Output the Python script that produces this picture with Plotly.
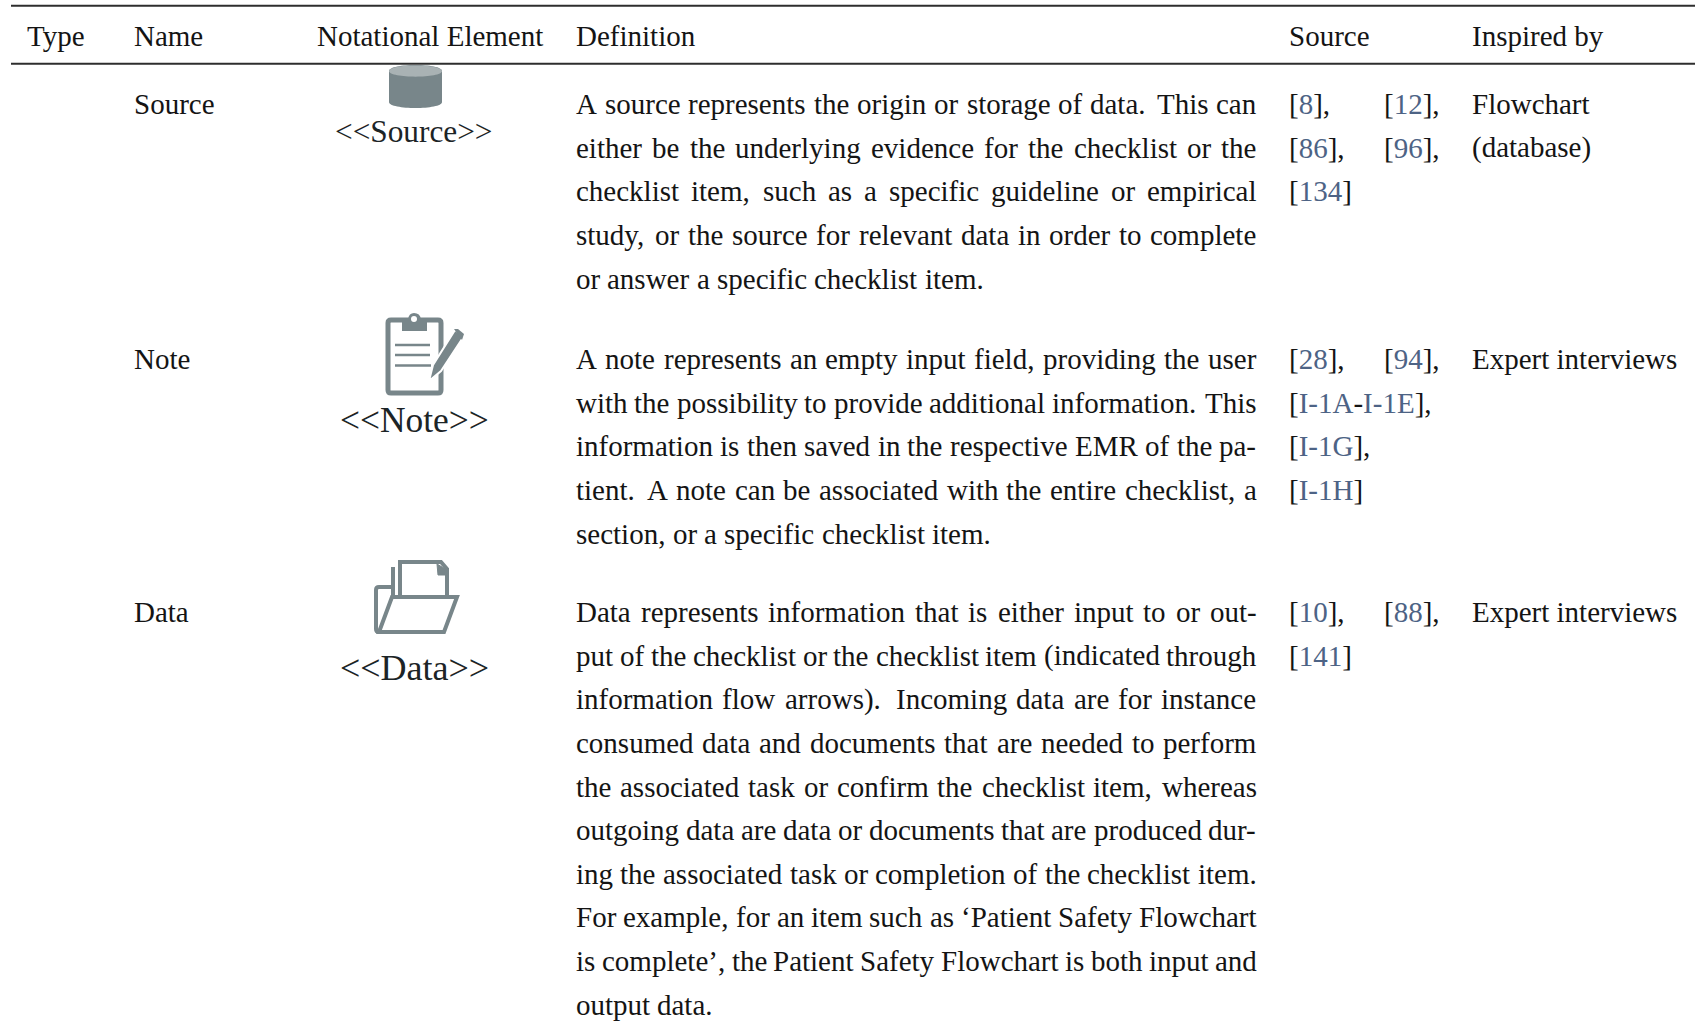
import re
import plotly.graph_objects as go

# ---------- table content ----------
headers = ["Type", "Name", "Notational Element", "Definition", "Source", "Inspired by"]
names = ["Source", "Note", "Data"]
elements = ["<<Source>>", "<<Note>>", "<<Data>>"]
definitions = [
    ["A source represents the origin or storage of data. This can",
     "either be the underlying evidence for the checklist or the",
     "checklist item, such as a specific guideline or empirical",
     "study, or the source for relevant data in order to complete",
     "or answer a specific checklist item."],
    ["A note represents an empty input field, providing the user",
     "with the possibility to provide additional information. This",
     "information is then saved in the respective EMR of the pa-",
     "tient. A note can be associated with the entire checklist, a",
     "section, or a specific checklist item."],
    ["Data represents information that is either input to or out-",
     "put of the checklist or the checklist item (indicated through",
     "information flow arrows). Incoming data are for instance",
     "consumed data and documents that are needed to perform",
     "the associated task or confirm the checklist item, whereas",
     "outgoing data are data or documents that are produced dur-",
     "ing the associated task or completion of the checklist item.",
     "For example, for an item such as ‘Patient Safety Flowchart",
     "is complete’, the Patient Safety Flowchart is both input and",
     "output data."],
]
sources = [
    ["[8], [12],", "[86], [96],", "[134]"],
    ["[28], [94],", "[I-1A-I-1E],", "[I-1G],", "[I-1H]"],
    ["[10], [88],", "[141]"],
]
inspired = [["Flowchart", "(database)"], ["Expert interviews"], ["Expert interviews"]]

# ---------- layout constants ----------
FS = 29
PITCH = 43.6
INK = "#141414"
LINK = "#4d6385"
ICON = "#78868a"
COLX = [27, 134, 317, 576, 1289, 1471.5]
DEF_RIGHT = 1256.5
SRC_RIGHT = 1440
HEAD_BASE = 46
ROW_BASE = [114, 369, 622]
ELEM_POS = [(414, 142, 31.3), (414, 432, 35.4), (414.5, 680, 36)]
BASE_OFFSET = 0.3375  # em from baseline up to text-box centre

W = {" ": 250, "(": 333, ")": 333, ",": 250, "-": 333, ".": 250, "<": 564, ">": 564, "[": 333, "]": 333,
     "A": 722, "B": 667, "C": 667, "D": 722, "E": 611, "F": 556, "G": 722, "H": 722, "I": 333, "J": 389,
     "K": 722, "L": 611, "M": 889, "N": 722, "O": 722, "P": 556, "Q": 722, "R": 667, "S": 556, "T": 611,
     "U": 722, "V": 722, "W": 944, "X": 722, "Y": 722, "Z": 611,
     "a": 444, "b": 500, "c": 444, "d": 500, "e": 444, "f": 333, "g": 500, "h": 500, "i": 278, "j": 278,
     "k": 500, "l": 278, "m": 778, "n": 500, "o": 500, "p": 500, "q": 500, "r": 333, "s": 389, "t": 278,
     "u": 500, "v": 500, "w": 722, "x": 500, "y": 500, "z": 444, "‘": 333, "’": 333}


def width(s, fs=FS):
    return sum(W.get(c, 500) for c in s) * fs / 1000


annotations = []


def put(text, x, base, fs=FS, color=INK, anchor="left"):
    annotations.append(dict(
        text=text, x=x, y=base - BASE_OFFSET * fs, xref="x", yref="y", xanchor=anchor, yanchor="middle",
        showarrow=False, borderpad=0, borderwidth=0, align="left",
        font=dict(family="Liberation Serif", size=fs, color=color)))


def tint(word):
    """Colour the citation keys inside brackets, leaving punctuation dark."""
    def rep(m):
        return "<span style='color:%s'>%s</span>" % (LINK, m.group(0))
    return re.sub(r"I-1[A-Z]|\d+", rep, word)


def glue(word):
    """Natural width, stretch and shrink of the space after a word (TeX model, in em)."""
    end = word[-1]
    if end in ".":
        return 0.31, 0.45, 0.02
    if end == ")":
        return 0.25, 0.15, 0.06
    if end == ",":
        return 0.25, 0.1875, 0.048
    return 0.25, 0.15, 0.06


def line(text, x0, base, right=None, link=False):
    words = text.split(" ")
    nat = sum(width(w) for w in words)
    gaps = len(words) - 1
    g = [glue(w) for w in words[:-1]]
    if words[:-1] and "arrows)." in words:
        pass
    if right is None or gaps == 0:
        gap = [width(" ")] * gaps
    else:
        base_gap = sum(v[0] for v in g) * FS
        excess = right - x0 - nat - base_gap
        k = 1 if excess >= 0 else 2
        ratio = excess / (sum(v[k] for v in g) * FS)
        gap = [(v[0] + ratio * v[k]) * FS for v in g]
    x = x0
    for i, w in enumerate(words):
        put(tint(w) if link else w, x, base)
        if i < gaps:
            x += width(w) + gap[i]


for h, x in zip(headers, COLX):
    put(h, x, HEAD_BASE)

for r in range(3):
    base = ROW_BASE[r]
    put(names[r], COLX[1], base)
    ex, eb, efs = ELEM_POS[r]
    put(elements[r].replace("<", "&lt;").replace(">", "&gt;"), ex, eb, fs=efs, color="#1c2426", anchor="center")
    for i, t in enumerate(definitions[r]):
        last = i == len(definitions[r]) - 1
        line(t, COLX[3], base + i * PITCH, None if last else DEF_RIGHT)
    for i, t in enumerate(sources[r]):
        line(t, COLX[4], base + i * PITCH, SRC_RIGHT, link=True)
    for i, t in enumerate(inspired[r]):
        put(t, COLX[5], base + i * PITCH)

# ---------- rules and icons ----------
shapes = []


def rule(y):
    shapes.append(dict(type="line", x0=11, x1=1695, y0=y, y1=y, xref="x", yref="y",
                       line=dict(color="#2e2e2e", width=2), layer="above"))


def path(d, fill="rgba(0,0,0,0)", color=ICON, w=0):
    shapes.append(dict(type="path", path=d, xref="x", yref="y", fillcolor=fill,
                       line=dict(color=color, width=w)))


rule(5.7)
rule(63.7)

# Source: database cylinder
path("M389,71 C389,63 442,63 442,71 L442,102 C442,110 389,110 389,102 Z", fill=ICON)
path("M389,71 C389,63.5 442,63.5 442,71 C442,78.5 389,78.5 389,71 Z", fill="#a9b2b4")

# Note: clipboard and pencil
path("M391,320 L438,320 Q441,320 441,323 L441,390 Q441,393 438,393 L391,393 Q388,393 388,390 "
     "L388,323 Q388,320 391,320 Z", fill="white", w=5)
path("M402,319 L408,319 Q409,313 414,313 Q420,313 421,319 L427,319 L427,331 L402,331 Z", fill=ICON)
shapes.append(dict(type="circle", x0=411, x1=417, y0=316, y1=322, fillcolor="white", line=dict(width=0)))
for y, x1 in ((345, 430), (355, 430), (365.5, 431)):
    shapes.append(dict(type="line", x0=395, x1=x1, y0=y, y1=y, line=dict(color=ICON, width=2.6)))
path("M429,381 L433,365 L455,330 L464,336 L441,371 Z", fill=ICON, color="white", w=2)
path("M454,329 L458,329 L464,334 L462,340 Z", fill=ICON)

# Data: folder with papers
path("M400,597 L400,562 L441,562 L447,569 L447,597", fill="white", w=4)
path("M393,597 L393,567", w=4)
path("M437,564 L447,570 L447,575 L438,575 Z", fill=ICON, w=1)
path("M393,587 L379,587 Q376,587 376,590 L376,629 Q376,632 379,632", w=4)
path("M392,597 L457,597 L444,632 L379,632 Z", fill="white", w=4)

fig = go.Figure()
fig.update_layout(
    width=1695, height=1027, margin=dict(l=0, r=0, t=0, b=0), autosize=False,
    paper_bgcolor="white", plot_bgcolor="white", showlegend=False,
    xaxis=dict(range=[0, 1695], visible=False, fixedrange=True),
    yaxis=dict(range=[1027, 0], visible=False, fixedrange=True),
    annotations=annotations, shapes=shapes)
fig.write_html("out.html", config={"displayModeBar": False},
               post_script="document.body.style.margin='0';document.body.style.overflow='hidden';")
